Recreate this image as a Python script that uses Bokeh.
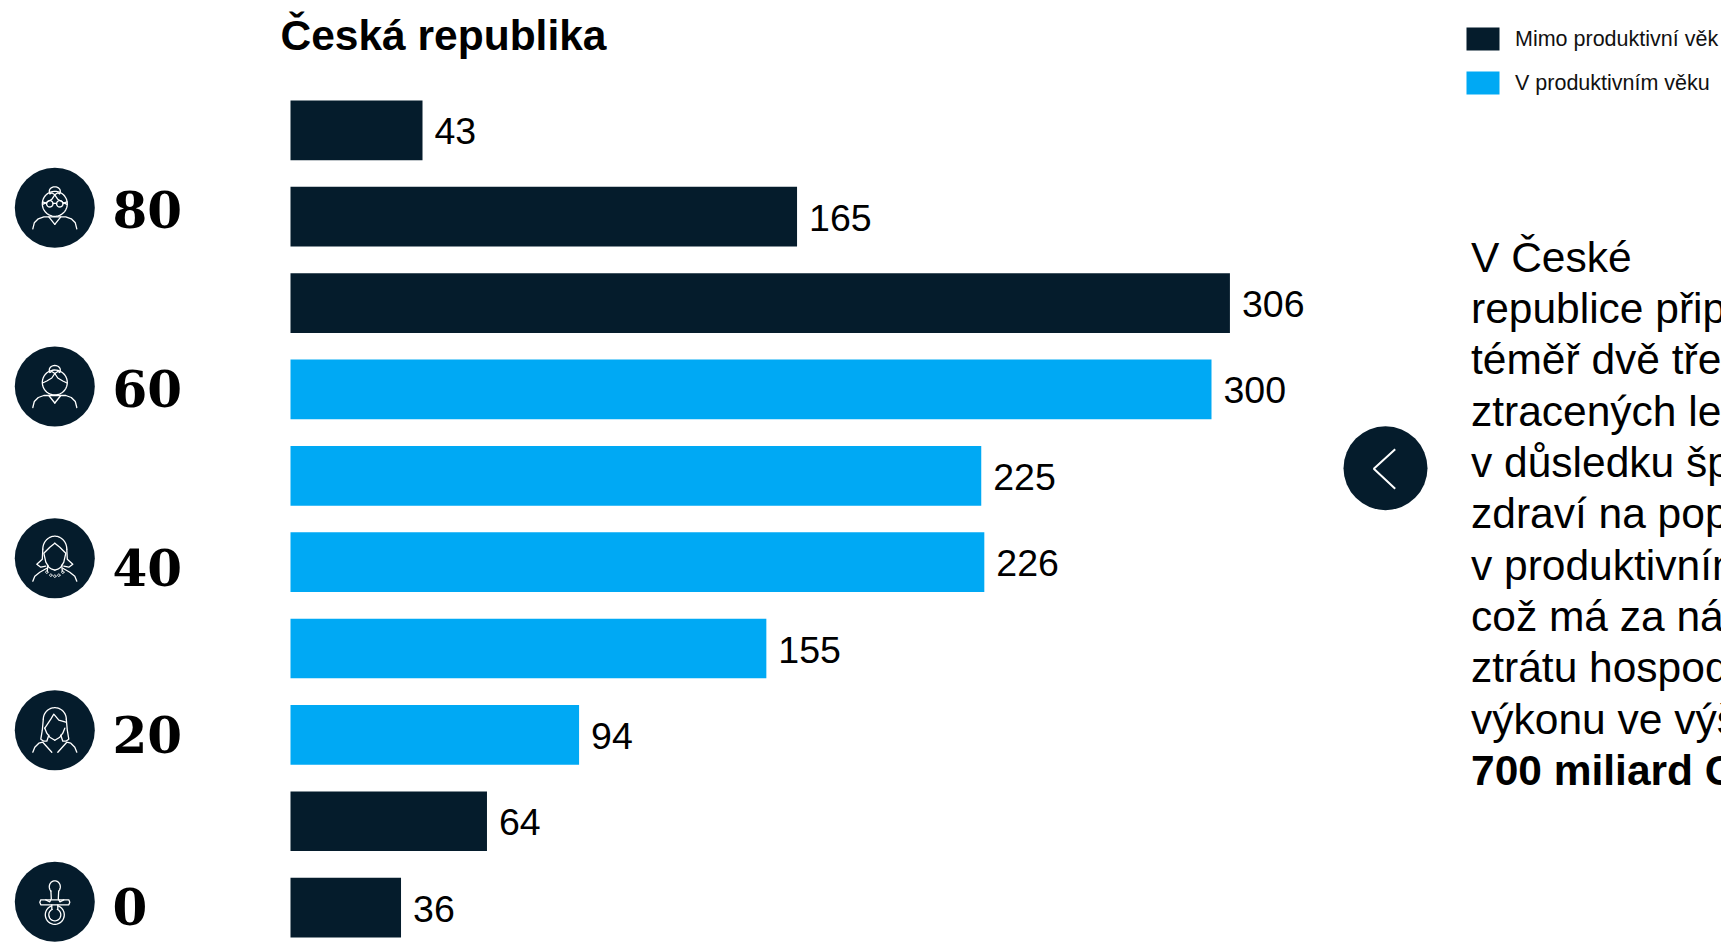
import numpy as np
from bokeh.core.properties import value
from bokeh.embed import file_html
from bokeh.models import ColumnDataSource, Range1d
from bokeh.plotting import figure
from bokeh.resources import INLINE

# Years lost per age band, oldest band first
band_values = [43, 165, 306, 300, 225, 226, 155, 94, 64, 36]
band_series = ["Mimo produktivní věk"] * 3 + ["V produktivním věku"] * 5 + ["Mimo produktivní věk"] * 2
series_names = ["Mimo produktivní věk", "V produktivním věku"]
series_colors = {"Mimo produktivní věk": "#051C2C", "V produktivním věku": "#00A9F4"}
age_labels = ["80", "60", "40", "20", "0"]
title_text = "Česká republika"
body_lines = [
    "V České",
    "republice přip",
    "téměř dvě tře",
    "ztracených le",
    "v důsledku šp",
    "zdraví na pop",
    "v produktivním",
    "což má za ná",
    "ztrátu hospod",
    "výkonu ve výš",
]
body_bold = "700 miliard C"

W, H = 1721, 943
NAVY = series_colors["Mimo produktivní věk"]
SANS = value("Liberation Sans")

PX_PER_UNIT = 3.07
BAR_LEFT = 290
BAND_TOP = 129.8
BAND_STEP = 86.37
BAR_H = 59.7
# Distance the renderer places alphabetic text below its anchor, per pixel of font size
BASELINE_SHIFT = 0.38

p = figure(
    width=W, height=H, output_backend="svg", toolbar_location=None,
    x_axis_location=None, y_axis_location=None, min_border=0,
    x_range=Range1d(-BAR_LEFT / PX_PER_UNIT, (W - BAR_LEFT) / PX_PER_UNIT),
    y_range=Range1d((H - BAND_TOP) / BAND_STEP, -BAND_TOP / BAND_STEP),
)
p.grid.visible = False
p.outline_line_color = None
p.background_fill_color = "white"
p.border_fill_color = "white"

# A second coordinate system in page pixels for everything that is not a bar
p.extra_x_ranges["page"] = Range1d(0, W)
p.extra_y_ranges["page"] = Range1d(H, 0)
PAGE = dict(x_range_name="page", y_range_name="page")


def arc(cx, cy, rx, ry, a0, a1, n=40):
    t = np.radians(np.linspace(a0, a1, n))
    return list(cx + rx * np.cos(t)), list(cy + ry * np.sin(t))


def stroke(xs, ys, ox, oy, width=1.3):
    p.line([ox + x for x in xs], [oy + y for y in ys], line_color="white",
           line_width=width, line_cap="round", line_join="round", **PAGE)


def both_sides(xs, ys, ox, oy):
    stroke(xs, ys, ox, oy)
    stroke([-x for x in xs], ys, ox, oy)


def ring(cx, cy, r, ox, oy, width=1.3):
    xs, ys = arc(cx, cy, r, r, 0, 360)
    stroke(xs, ys, ox, oy, width)


def senior(ox, oy):
    ring(0, -4, 12.5, ox, oy)
    xs, ys = arc(0, -16.5, 5.5, 4.5, 150, 390)
    stroke(xs, ys, ox, oy)
    both_sides([0, -3, -8, -12.2], [-13, -8.5, -5.5, -3.5], ox, oy)
    both_sides([0, -3, -5], [-13, -15, -14], ox, oy)
    both_sides([-22, -20.5, -16.5, -11, -6, 0], [21, 15, 11, 9, 9, 16.5], ox, oy)
    stroke([-6, 6], [9, 9], ox, oy)


def glasses(ox, oy):
    ring(-5, -4, 3.2, ox, oy)
    ring(5, -4, 3.2, ox, oy)
    stroke([-1.8, 1.8], [-4.5, -4.5], ox, oy)
    both_sides([-8.2, -12.2], [-4.5, -6], ox, oy)


def woman_with_necklace(ox, oy):
    xs, ys = arc(0, -9, 12, 13, 180, 360)
    stroke(xs, ys, ox, oy)
    both_sides([-12, -12.5, -18, -14, -9], [-9, 1, 6, 9, 8], ox, oy)
    both_sides([0, -5, -11, -9, -6, -3, 0], [-15, -11, -5, 4, 9, 11, 12], ox, oy)
    both_sides([-22, -20, -15, -8], [23, 18, 14, 10], ox, oy)
    both_sides([-7, -7.5], [7, 13], ox, oy)
    for dx, dy in [(-8, 14), (-4, 17), (0, 18), (4, 17), (8, 14)]:
        ring(dx, dy, 1.2, ox, oy, 1.0)


def young_woman(ox, oy):
    xs, ys = arc(0, -11, 11.5, 11.5, 180, 360)
    stroke(xs, ys, ox, oy)
    both_sides([-11.5, -12.5, -14, -11, -8, -6], [-11, 0, 9, 11, 11, 5], ox, oy)
    stroke([-10, -4, -1, 4, 11], [-2, -11, -16, -10, -8], ox, oy)
    both_sides([-10, -8, -5, 0], [-2, 3, 7, 10], ox, oy)
    both_sides([-22, -20, -16, -12, -3], [22, 17, 13, 12, 22], ox, oy)


def pacifier(ox, oy):
    xs, ys = arc(0, -15, 5.5, 6, 135, 405)
    stroke(xs + [3.5, 5, 9], ys + [-3, 0, -2], ox, oy)
    stroke([-3.9, -3.5, -5, -9], [-10.8, -3, 0, -2], ox, oy)
    stroke([-14, 14, 15, 14, -14, -15, -14], [-2, -2, 0.5, 3, 3, 0.5, -2], ox, oy)
    both_sides([-3, -3], [3, 7], ox, oy)
    xs, ys = arc(0, 13, 9.5, 9.5, -70, 250)
    stroke(xs, ys, ox, oy)
    xs, ys = arc(0, 13, 6, 6, -65, 245)
    stroke(xs, ys, ox, oy)


# Horizontal bars, one per age band, with the value beside each bar
band_index = np.arange(len(band_values))
bars = ColumnDataSource(dict(
    y=band_index,
    v=band_values,
    label=[str(v) for v in band_values],
    color=[series_colors[s] for s in band_series],
))
p.hbar(y="y", left=0, right="v", height=BAR_H / BAND_STEP, fill_color="color",
       line_color=None, source=bars)
p.text(x="v", y="y", text="label", x_offset=12, y_offset=1, text_baseline="middle",
       text_font=SANS, text_font_size="37.5px", text_color="#000000", source=bars)

TITLE_SIZE = 42.5
p.text(x=[280], y=[51 - BASELINE_SHIFT * TITLE_SIZE], text=[title_text], text_font=SANS,
       text_font_style="bold", text_font_size=f"{TITLE_SIZE}px", text_color="#000000",
       text_baseline="alphabetic", **PAGE)

# Age scale on the left: round badges with a line figure and the age next to it
badge_y = [207.3, 386, 557.7, 729.7, 901.3]
age_centre_y = [209, 388, 567, 734, 906]
p.circle(x=[54.3] * 5, y=badge_y, radius=40, fill_color=NAVY, line_color=None, **PAGE)
p.text(x=[112] * 5, y=age_centre_y, text=age_labels, text_font=value("DejaVu Serif"),
       text_font_style="bold", text_font_size="50px", text_color="#000000",
       text_baseline="middle", **PAGE)

senior(54.3, badge_y[0])
glasses(54.3, badge_y[0])
senior(54.3, badge_y[1])
woman_with_necklace(54.3, badge_y[2])
young_woman(54.3, badge_y[3])
pacifier(54.3, badge_y[4])

# Legend
legend_y = [38.5, 82.5]
p.rect(x=[1482.5] * 2, y=legend_y, width=33, height=23, fill_color=[series_colors[s] for s in series_names],
       line_color=None, **PAGE)
p.text(x=[1514.5] * 2, y=legend_y, text=series_names, text_font=SANS,
       text_font_size="21.5px", text_color="#111111", text_baseline="middle", **PAGE)

# Round button with a chevron
p.circle(x=[1385], y=[467.7], radius=42, fill_color=NAVY, line_color=None, **PAGE)
p.line([1394.7, 1373.3, 1394.7], [448.7, 468.3, 488.3], line_color="white", line_width=2, **PAGE)

# Commentary column running off the right-hand edge
BODY_SIZE = 42.5
first_baseline, line_step = 272.7 - BASELINE_SHIFT * BODY_SIZE, 51.33
p.text(x=[1470.5] * len(body_lines),
       y=[first_baseline + i * line_step for i in range(len(body_lines))],
       text=body_lines, text_font=SANS, text_font_size=f"{BODY_SIZE}px", text_color="#000000",
       text_baseline="alphabetic", **PAGE)
p.text(x=[1470.5], y=[first_baseline + len(body_lines) * line_step], text=[body_bold],
       text_font=SANS, text_font_style="bold", text_font_size=f"{BODY_SIZE}px", text_color="#000000",
       text_baseline="alphabetic", **PAGE)

open("out.html", "w").write(file_html(p, INLINE))
